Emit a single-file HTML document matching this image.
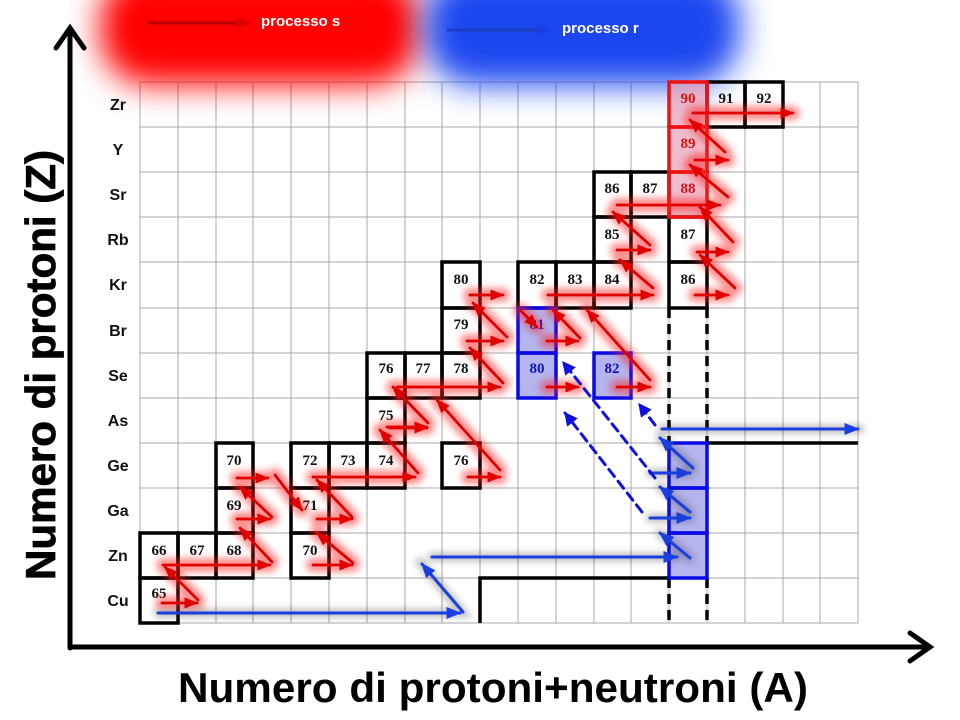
<!DOCTYPE html>
<html><head><meta charset="utf-8"><style>
html,body{margin:0;padding:0;background:#fff;width:960px;height:720px;overflow:hidden}
svg{display:block}
</style></head><body>
<svg width="960" height="720" viewBox="0 0 960 720" xmlns="http://www.w3.org/2000/svg">
<defs>
<filter id="blob" x="-50%" y="-50%" width="200%" height="200%"><feGaussianBlur stdDeviation="16"/></filter>
<filter id="glow" x="-30%" y="-30%" width="160%" height="160%"><feGaussianBlur stdDeviation="3.5"/></filter>
<marker id="ar" viewBox="0 0 10 10" refX="9" refY="5" markerWidth="5" markerHeight="5" orient="auto"><path d="M0,1 L10,5 L0,9 z" fill="#e00000"/></marker>
<marker id="ab" viewBox="0 0 10 10" refX="9" refY="5" markerWidth="5" markerHeight="5" orient="auto"><path d="M0,1 L10,5 L0,9 z" fill="#1a3ee0"/></marker>
<marker id="ad" viewBox="0 0 10 10" refX="9" refY="5" markerWidth="4.5" markerHeight="4.5" orient="auto"><path d="M0,0 L10,5 L0,10 z" fill="#1010e0"/></marker>
</defs>

<!-- grid -->
<g stroke="#a8a8a8" stroke-width="1">
<rect x="140" y="82" width="718" height="541" fill="none"/>
<line x1="178" y1="82" x2="178" y2="623"/><line x1="216" y1="82" x2="216" y2="623"/><line x1="253" y1="82" x2="253" y2="623"/><line x1="291" y1="82" x2="291" y2="623"/><line x1="329" y1="82" x2="329" y2="623"/><line x1="367" y1="82" x2="367" y2="623"/><line x1="405" y1="82" x2="405" y2="623"/><line x1="442" y1="82" x2="442" y2="623"/><line x1="480" y1="82" x2="480" y2="623"/><line x1="518" y1="82" x2="518" y2="623"/><line x1="556" y1="82" x2="556" y2="623"/><line x1="594" y1="82" x2="594" y2="623"/><line x1="631" y1="82" x2="631" y2="623"/><line x1="669" y1="82" x2="669" y2="623"/><line x1="707" y1="82" x2="707" y2="623"/><line x1="745" y1="82" x2="745" y2="623"/><line x1="783" y1="82" x2="783" y2="623"/><line x1="820" y1="82" x2="820" y2="623"/>
<line x1="140" y1="127" x2="858" y2="127"/><line x1="140" y1="172" x2="858" y2="172"/><line x1="140" y1="217" x2="858" y2="217"/><line x1="140" y1="262" x2="858" y2="262"/><line x1="140" y1="308" x2="858" y2="308"/><line x1="140" y1="353" x2="858" y2="353"/><line x1="140" y1="398" x2="858" y2="398"/><line x1="140" y1="443" x2="858" y2="443"/><line x1="140" y1="488" x2="858" y2="488"/><line x1="140" y1="533" x2="858" y2="533"/><line x1="140" y1="578" x2="858" y2="578"/>
</g>

<!-- legend blobs -->
<rect x="100" y="-30" width="320" height="115" rx="50" fill="#ff0000" filter="url(#blob)"/>
<rect x="425" y="-30" width="315" height="115" rx="50" fill="#1f47f0" filter="url(#blob)"/>
<line x1="148" y1="23" x2="250" y2="23" stroke="#ff8080" stroke-width="7" opacity="0.6" filter="url(#glow)"/>
<line x1="148" y1="23" x2="250" y2="23" stroke="#b00" stroke-width="3" marker-end="url(#ar)"/>
<line x1="447" y1="30" x2="550" y2="30" stroke="#a0b0ff" stroke-width="7" opacity="0.6" filter="url(#glow)"/>
<line x1="447" y1="30" x2="550" y2="30" stroke="#1a3ec0" stroke-width="3" marker-end="url(#ab)"/>
<text x="261" y="26" font-family="Liberation Sans, sans-serif" font-weight="bold" font-size="15" fill="#fff">processo s</text>
<text x="562" y="33" font-family="Liberation Sans, sans-serif" font-weight="bold" font-size="15" fill="#fff">processo r</text>

<!-- Element labels -->
<g font-family="Liberation Sans, sans-serif" font-weight="bold" font-size="16" fill="#111" text-anchor="middle">
<text x="118" y="110">Zr</text><text x="118" y="155">Y</text><text x="118" y="200">Sr</text><text x="118" y="245">Rb</text><text x="118" y="290">Kr</text><text x="118" y="336">Br</text><text x="118" y="381">Se</text><text x="118" y="426">As</text><text x="118" y="471">Ge</text><text x="118" y="516">Ga</text><text x="118" y="561">Zn</text><text x="118" y="606">Cu</text>
</g>

<!-- special fills -->
<rect x="669" y="82" width="38" height="135" fill="#e8a0b8" opacity="0.7"/>
<rect x="518" y="308" width="38" height="90" fill="#b4b4ee"/>
<rect x="594" y="353" width="37" height="45" fill="#b4b4ee"/>
<rect x="669" y="443" width="38" height="135" fill="#b4b4ee"/>

<!-- black boxes -->
<g fill="none" stroke="#000" stroke-width="3.5">
<rect x="140" y="578" width="38" height="45"/>
<rect x="140" y="533" width="38" height="45"/><rect x="178" y="533" width="38" height="45"/><rect x="216" y="533" width="37" height="45"/><rect x="291" y="533" width="38" height="45"/>
<rect x="216" y="488" width="37" height="45"/><rect x="291" y="488" width="38" height="45"/>
<rect x="216" y="443" width="37" height="45"/><rect x="291" y="443" width="38" height="45"/><rect x="329" y="443" width="38" height="45"/><rect x="367" y="443" width="38" height="45"/><rect x="442" y="443" width="38" height="45"/>
<rect x="367" y="398" width="38" height="45"/>
<rect x="367" y="353" width="38" height="45"/><rect x="405" y="353" width="37" height="45"/><rect x="442" y="353" width="38" height="45"/>
<rect x="442" y="308" width="38" height="45"/>
<rect x="442" y="262" width="38" height="46"/><rect x="518" y="262" width="38" height="46"/><rect x="556" y="262" width="38" height="46"/><rect x="594" y="262" width="37" height="46"/><rect x="669" y="262" width="38" height="46"/>
<rect x="594" y="217" width="37" height="45"/><rect x="669" y="217" width="38" height="45"/>
<rect x="594" y="172" width="37" height="45"/><rect x="631" y="172" width="38" height="45"/>
<rect x="707" y="82" width="38" height="45"/><rect x="745" y="82" width="38" height="45"/>
<polyline points="480,623 480,578 669,578"/>
<line x1="707" y1="443" x2="858" y2="443"/>
</g>
<g stroke="#000" stroke-width="3.5" stroke-dasharray="10,6">
<line x1="669" y1="308" x2="669" y2="443"/><line x1="707" y1="308" x2="707" y2="443"/>
<line x1="669" y1="578" x2="669" y2="623"/><line x1="707" y1="578" x2="707" y2="623"/>
</g>
<g fill="none" stroke="#ee1111" stroke-width="3.5">
<rect x="669" y="82" width="38" height="45"/><rect x="669" y="127" width="38" height="45"/><rect x="669" y="172" width="38" height="45"/>
</g>
<g fill="none" stroke="#0a0ae8" stroke-width="3.5">
<rect x="518" y="308" width="38" height="45"/><rect x="518" y="353" width="38" height="45"/><rect x="594" y="353" width="37" height="45"/>
<rect x="669" y="443" width="38" height="45"/><rect x="669" y="488" width="38" height="45"/><rect x="669" y="533" width="38" height="45"/>
</g>

<!-- numbers -->
<g font-family="Liberation Serif, serif" font-weight="bold" font-size="15" fill="#111" text-anchor="middle">
<text x="159" y="598">65</text>
<text x="159" y="555">66</text><text x="197" y="555">67</text><text x="234" y="555">68</text><text x="310" y="555">70</text>
<text x="234" y="510">69</text><text x="310" y="510">71</text>
<text x="234" y="465">70</text><text x="310" y="465">72</text><text x="348" y="465">73</text><text x="386" y="465">74</text><text x="461" y="465">76</text>
<text x="386" y="420">75</text>
<text x="386" y="373">76</text><text x="423" y="373">77</text><text x="461" y="373">78</text>
<text x="461" y="329">79</text>
<text x="461" y="284">80</text><text x="537" y="284">82</text><text x="575" y="284">83</text><text x="612" y="284">84</text><text x="688" y="284">86</text>
<text x="612" y="239">85</text><text x="688" y="239">87</text>
<text x="612" y="193">86</text><text x="650" y="193">87</text>
<text x="726" y="103">91</text><text x="764" y="103">92</text>
<g fill="#dd1111"><text x="688" y="103">90</text><text x="688" y="148">89</text><text x="688" y="193">88</text></g>
<g fill="#1010c0"><text x="537" y="329">81</text><text x="537" y="373">80</text><text x="612" y="373">82</text></g>
</g>

<!-- red s-process -->
<g fill="none" stroke-linecap="round">
<g stroke="#ff2020" stroke-width="14" opacity="0.5" filter="url(#glow)">
<path d="M163,565 L270,565 M165,567 L198,600 M162,603 L197,603 M240,528 L272,562 M237,519 L270,519 M240,487 L272,517 M237,478 L268,478 M275,475 L302,510 M317,533 L353,563 M313,565 L352,565 M317,519 L352,519 M317,480 L352,517 M313,477 L415,477 M380,430 L418,473 M387,427 L427,427 M437,400 L500,470 M468,477 L500,477 M393,387 L428,423 M390,428 L427,428 M470,348 L503,383 M397,387 L500,387 M473,303 L507,337 M467,341 L503,341 M470,295 L503,295 M520,310 L537,327 M553,310 L580,338 M547,341 L578,341 M547,387 L578,387 M587,310 L650,380 M617,387 L650,387 M548,295 L653,295 M620,260 L653,288 M617,250 L650,250 M613,212 L650,245 M617,205 L720,205 M700,207 L733,242 M697,252 L728,252 M700,255 L735,288 M695,295 L728,295 M690,165 L728,197 M695,160 L728,160 M690,120 L725,152 M693,113 L793,113"/>
</g>
<g stroke="#e00000" stroke-width="2.8" marker-end="url(#ar)">
<line x1="163" y1="565" x2="270" y2="565"/><line x1="198" y1="600" x2="165" y2="567"/><line x1="162" y1="603" x2="197" y2="603"/>
<line x1="272" y1="562" x2="240" y2="528"/><line x1="237" y1="519" x2="270" y2="519"/><line x1="272" y1="517" x2="240" y2="487"/><line x1="237" y1="478" x2="268" y2="478"/>
<line x1="275" y1="475" x2="302" y2="510"/>
<line x1="353" y1="563" x2="317" y2="533"/><line x1="313" y1="565" x2="352" y2="565"/><line x1="317" y1="519" x2="352" y2="519"/><line x1="352" y1="517" x2="317" y2="480"/>
<line x1="313" y1="477" x2="415" y2="477"/><line x1="418" y1="473" x2="380" y2="430"/><line x1="387" y1="427" x2="427" y2="427"/>
<line x1="500" y1="470" x2="437" y2="400"/><line x1="468" y1="477" x2="500" y2="477"/>
<line x1="428" y1="423" x2="393" y2="387"/><line x1="390" y1="428" x2="427" y2="428"/>
<line x1="503" y1="383" x2="470" y2="348"/><line x1="397" y1="387" x2="500" y2="387"/>
<line x1="507" y1="337" x2="473" y2="303"/><line x1="467" y1="341" x2="503" y2="341"/><line x1="470" y1="295" x2="503" y2="295"/>
<line x1="520" y1="310" x2="537" y2="327"/>
<line x1="580" y1="338" x2="553" y2="310"/><line x1="547" y1="341" x2="578" y2="341"/><line x1="547" y1="387" x2="578" y2="387"/>
<line x1="650" y1="380" x2="587" y2="310"/><line x1="617" y1="387" x2="650" y2="387"/>
<line x1="548" y1="295" x2="653" y2="295"/><line x1="653" y1="288" x2="620" y2="260"/><line x1="617" y1="250" x2="650" y2="250"/><line x1="650" y1="245" x2="613" y2="212"/>
<line x1="617" y1="205" x2="720" y2="205"/><line x1="733" y1="242" x2="700" y2="207"/><line x1="697" y1="252" x2="728" y2="252"/><line x1="735" y1="288" x2="700" y2="255"/><line x1="695" y1="295" x2="728" y2="295"/>
<line x1="728" y1="197" x2="690" y2="165"/><line x1="695" y1="160" x2="728" y2="160"/><line x1="725" y1="152" x2="690" y2="120"/><line x1="693" y1="113" x2="793" y2="113"/>
</g>
</g>

<!-- blue r-process -->
<g fill="none" stroke-linecap="round">
<g stroke="#333" stroke-width="9" opacity="0.3" filter="url(#glow)">
<path d="M158,613 L463,613 L420,562 M432,557 L677,557 M662,429 L860,429 M693,468 L660,438 M650,473 L690,473 M690,512 L660,487 M650,518 L690,518 M690,558 L660,533"/>
</g>
<g stroke="#1a3ee0" stroke-width="3" marker-end="url(#ab)">
<line x1="158" y1="613" x2="460" y2="613"/><line x1="463" y1="612" x2="422" y2="564"/>
<line x1="432" y1="557" x2="677" y2="557"/><line x1="662" y1="429" x2="858" y2="429"/>
<line x1="693" y1="468" x2="660" y2="438"/><line x1="650" y1="473" x2="690" y2="473"/>
<line x1="690" y1="512" x2="660" y2="487"/><line x1="650" y1="518" x2="690" y2="518"/>
<line x1="690" y1="558" x2="660" y2="533"/>
</g>
<g stroke="#1010e0" stroke-width="3" stroke-dasharray="9,6" marker-end="url(#ad)">
<line x1="655" y1="478" x2="563" y2="362"/><line x1="642" y1="512" x2="565" y2="413"/><line x1="655" y1="425" x2="639" y2="404"/>
</g>
</g>

<!-- axes -->
<g stroke="#000" stroke-width="5" fill="none" stroke-linecap="round">
<line x1="70" y1="648" x2="70" y2="30"/><polyline points="56,48 70,28 84,48"/>
<line x1="70" y1="647" x2="928" y2="647"/><polyline points="910,633 930,647 910,661"/>
</g>
<text x="493" y="702" text-anchor="middle" font-family="Liberation Sans Narrow, Liberation Sans, sans-serif" font-weight="bold" font-size="42" textLength="630" lengthAdjust="spacingAndGlyphs" fill="#000">Numero di protoni+neutroni (A)</text>
<text transform="translate(55,365) rotate(-90)" text-anchor="middle" font-family="Liberation Sans, sans-serif" font-weight="bold" font-size="42" textLength="430" lengthAdjust="spacingAndGlyphs" fill="#000" stroke="#000" stroke-width="0.8">Numero di protoni (Z)</text>
</svg>
</body></html>
